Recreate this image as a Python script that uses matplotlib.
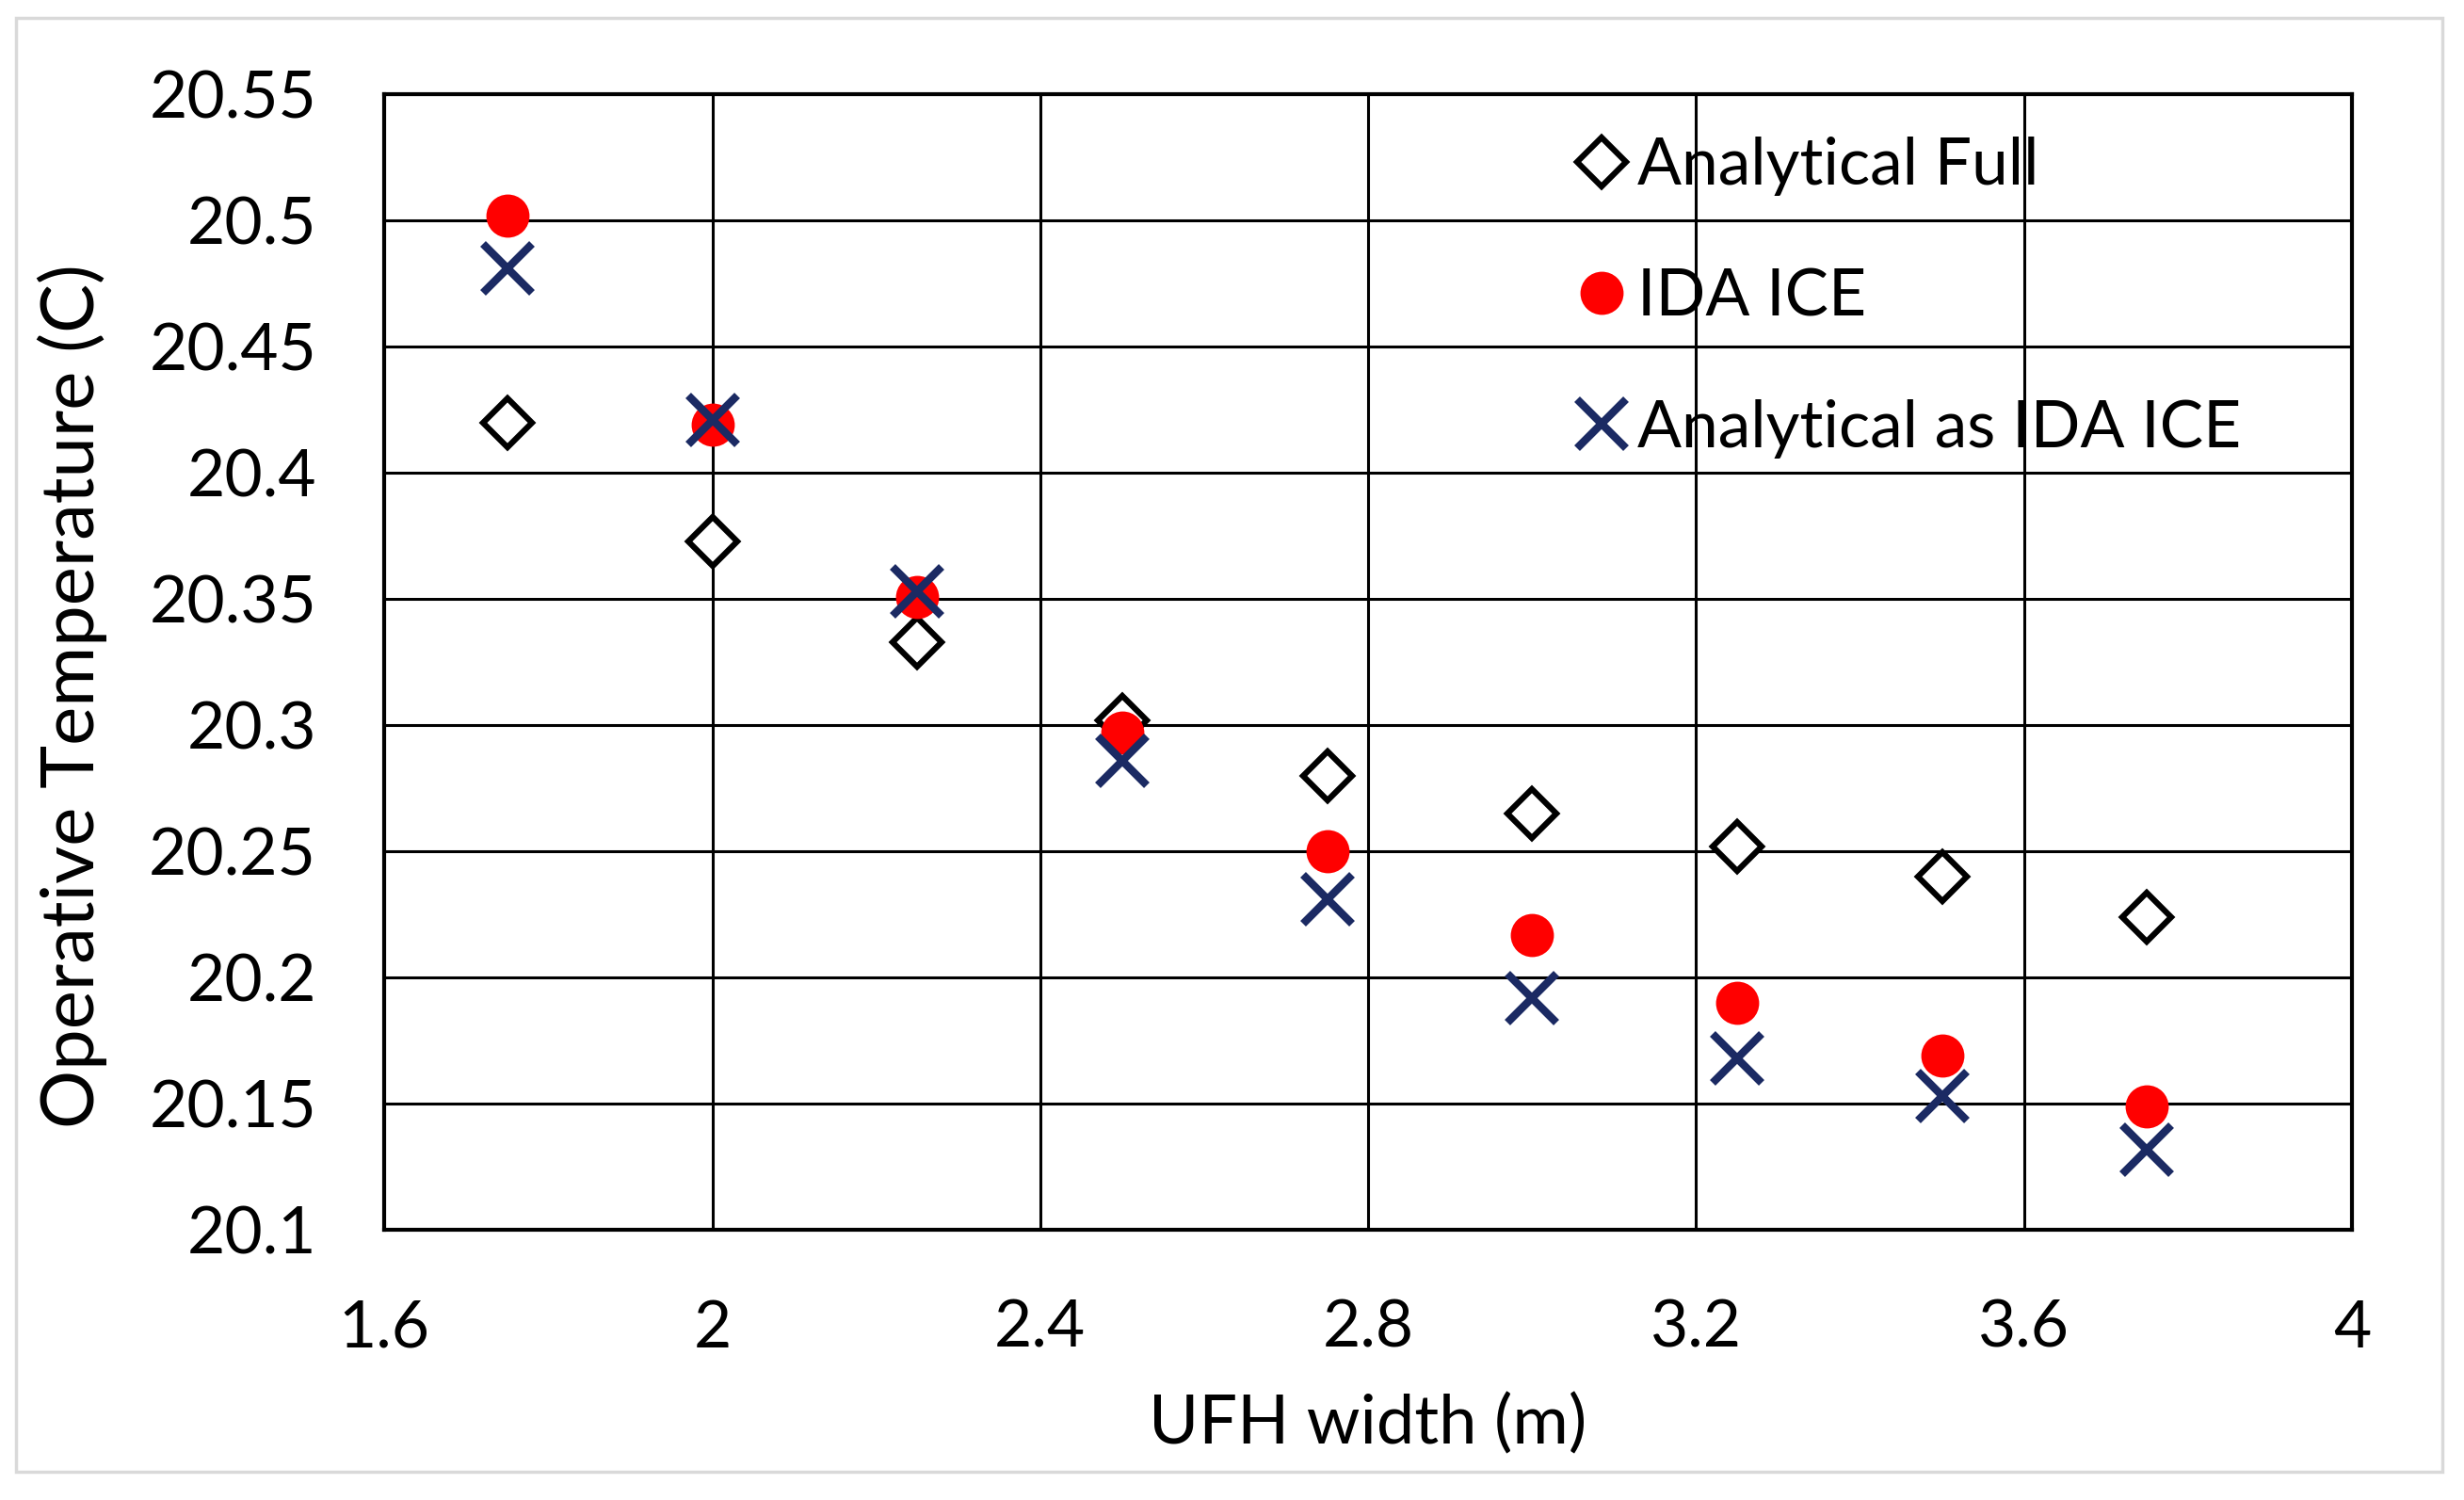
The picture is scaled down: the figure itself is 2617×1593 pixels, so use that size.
import matplotlib
matplotlib.use("Agg")
import matplotlib.pyplot as plt
from matplotlib.patches import Rectangle

plt.rcParams['font.family'] = ['Lato', 'DejaVu Sans']

# UFH width (m)
larghezza = [1.75, 2.0, 2.25, 2.5, 2.75, 3.0, 3.25, 3.5, 3.75]

# operative temperature (C)
analitico_full = [20.420, 20.373, 20.333, 20.302, 20.280, 20.265, 20.252, 20.240, 20.224]
ida_ice = [20.502, 20.419, 20.351, 20.297, 20.250, 20.217, 20.190, 20.169, 20.149]
analitico_ida = [20.481, 20.421, 20.353, 20.286, 20.231, 20.192, 20.168, 20.153, 20.132]

x_ticks = [1.6, 2.0, 2.4, 2.8, 3.2, 3.6, 4.0]
x_labels = ["1.6", "2", "2.4", "2.8", "3.2", "3.6", "4"]
y_ticks = [20.1, 20.15, 20.2, 20.25, 20.3, 20.35, 20.4, 20.45, 20.5, 20.55]
y_labels = ["20.1", "20.15", "20.2", "20.25", "20.3", "20.35", "20.4", "20.45", "20.5", "20.55"]

fs = 50

fig = plt.figure(figsize=(26.17, 15.93), dpi=100)
fig.patches.append(Rectangle((17 / 2617, 1 - 1563 / 1593), (2594 - 17) / 2617, (1563 - 19) / 1593,
                             transform=fig.transFigure, fill=False, edgecolor="#d9d9d9", linewidth=2.5))

ax = fig.add_axes([0.156, 0.180, 0.7985, 0.757])

ax.plot(larghezza, analitico_full, linestyle="none", marker="D", markersize=26,
        markerfacecolor="white", markeredgecolor="black", markeredgewidth=4.5,
        label="Analytical Full", zorder=3)
ax.plot(larghezza, ida_ice, linestyle="none", marker="o", markersize=33,
        markerfacecolor="#ff0000", markeredgecolor="#ff0000", markeredgewidth=0,
        label="IDA ICE", zorder=4)
ax.plot(larghezza, analitico_ida, linestyle="none", marker="x", markersize=37,
        markeredgecolor="#1b2a63", markeredgewidth=6,
        label="Analytical as IDA ICE", zorder=5)

ax.set_xlim(1.6, 4.0)
ax.set_ylim(20.1, 20.55)
ax.set_xticks(x_ticks)
ax.set_xticklabels(x_labels)
ax.set_yticks(y_ticks)
ax.set_yticklabels(y_labels)
ax.tick_params(length=0, labelsize=fs, colors="black")
ax.tick_params(axis="y", pad=52)
ax.tick_params(axis="x", pad=53)
ax.grid(True, color="black", linewidth=2.2)
ax.set_axisbelow(True)
for s in ax.spines.values():
    s.set_linewidth(3)
    s.set_color("black")

ax.set_xlabel("UFH width (m)", fontsize=52, labelpad=26)
ax.set_ylabel("Operative Temperature (C)", fontsize=56)
ax.yaxis.set_label_coords(-0.141, 0.47)

ax.legend(loc="upper left", bbox_to_anchor=(0.642, 0.909), bbox_transform=fig.transFigure,
          frameon=False, fontsize=fs, handlelength=0.6, handletextpad=0.25,
          labelspacing=1.1, borderpad=0, borderaxespad=0)

fig.savefig("out.png", dpi=100)
